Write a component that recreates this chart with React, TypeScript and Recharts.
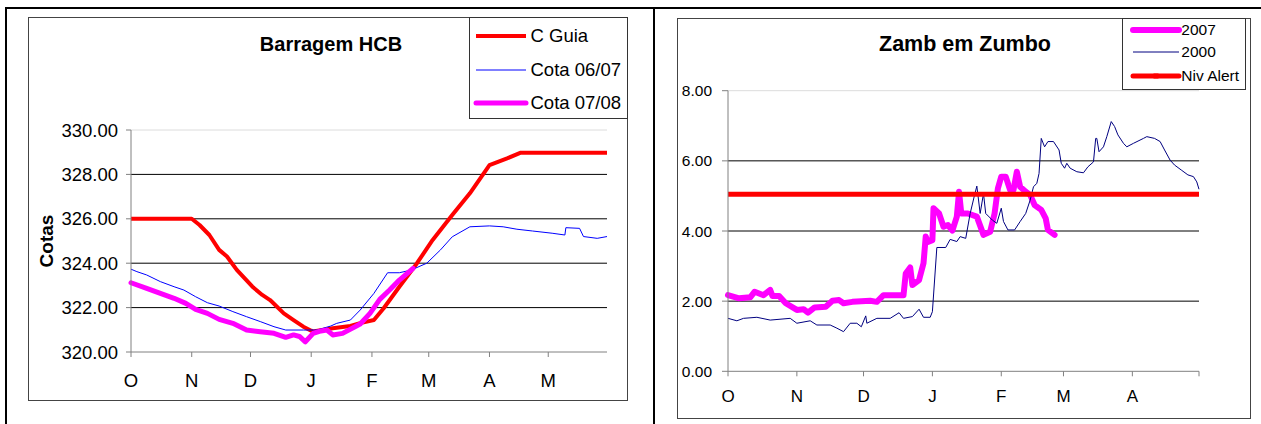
import React from "react";
import { CartesianGrid, Legend, Line, LineChart, XAxis, YAxis } from "recharts";

const FONT = '"Liberation Sans", Arial, Helvetica, sans-serif';

// ---- Barragem HCB (day index from 1 Oct, cota in m) ----
const hcbTicks = [0, 31, 61, 92, 123, 152, 183, 213];
const hcbMonths = ["O", "N", "D", "J", "F", "M", "A", "M"];
const hcbYTicks = [320, 322, 324, 326, 328, 330];

const cGuia: [number, number][] = [
  [0, 326], [31, 326], [35, 325.72], [40, 325.27], [45, 324.6], [49, 324.3], [54, 323.7],
  [62, 322.94], [67, 322.57], [71, 322.34], [78, 321.74], [83, 321.44], [88, 321.14],
  [92, 320.96], [93, 320.92], [103, 321.07], [112, 321.17], [117, 321.3], [124, 321.44],
  [129, 321.97], [137, 322.94], [146, 324.0], [154, 325.05], [164, 326.17], [173, 327.15],
  [183, 328.42], [192, 328.72], [199, 328.98], [243, 328.98],
];

const cota0607: [number, number][] = [
  [0, 323.73], [3, 323.62], [8, 323.47], [15, 323.17], [22, 322.94], [27, 322.79],
  [33, 322.49], [39, 322.22], [45, 322.07], [52, 321.82], [59, 321.59], [66, 321.37],
  [73, 321.14], [79, 320.99], [88, 320.99], [95, 320.99], [102, 321.17], [105, 321.29],
  [112, 321.44], [117, 321.89], [124, 322.64], [131, 323.57], [137, 323.57], [143, 323.69],
  [151, 324.0], [158, 324.6], [164, 325.19], [173, 325.64], [183, 325.68], [190, 325.64],
  [197, 325.53], [205, 325.45], [215, 325.35], [221.5, 325.27], [222, 325.6], [229, 325.57],
  [231, 325.2], [238, 325.12], [243, 325.2],
];

const cota0708: [number, number][] = [
  [0, 323.12], [8, 322.87], [15, 322.64], [22, 322.42], [28, 322.19], [33, 321.92],
  [39, 321.74], [45, 321.47], [52, 321.29], [59, 320.99], [66, 320.91], [73, 320.84],
  [79, 320.66], [83, 320.77], [86, 320.7], [89, 320.46], [93, 320.84], [97, 320.95],
  [100, 320.99], [103, 320.77], [108, 320.84], [117, 321.26], [122, 321.74], [127, 322.37],
  [132, 322.79], [137, 323.24], [144, 323.77],
];

// ---- Zamb em Zumbo (day index from 1 Oct, nivel in m) ----
const zumboTicks = [0, 31, 61, 92, 123, 151, 182, 212];
const zumboMonths = ["O", "N", "D", "J", "F", "M", "A", ""];
const zumboYTicks = [0, 2, 4, 6, 8];

const y2007: [number, number][] = [
  [0, 2.17], [5, 2.08], [10, 2.11], [12, 2.27], [16, 2.17], [19, 2.32], [20, 2.15], [23, 2.15],
  [26, 1.94], [31, 1.75], [34, 1.77], [36, 1.67], [39, 1.82], [44, 1.84], [47, 2.01], [50, 2.03],
  [52, 1.94], [56, 1.98], [64, 2.01], [67, 1.98], [70, 2.17], [79, 2.17], [80, 2.79], [82, 2.96],
  [83, 2.46], [86, 2.6], [88, 3.08], [89, 3.84], [90, 3.69], [92, 3.74], [92.5, 4.65], [95, 4.5],
  [97, 4.12], [99, 4.17], [101, 4.01], [103, 4.41], [104, 5.12], [105, 4.5], [108, 4.5],
  [112, 4.41], [115, 3.89], [118, 3.98], [120, 4.5], [121.5, 5.22], [123, 5.55], [125, 5.55],
  [127, 5.17], [128.5, 5.17], [130, 5.69], [131.5, 5.26], [134, 5.12], [136, 5.03], [138, 4.74],
  [141, 4.6], [143, 4.36], [144, 4.03], [147, 3.89],
];

const y2000: [number, number][] = [
  [0, 1.51], [4, 1.44], [7, 1.51], [13, 1.54], [19, 1.46], [28, 1.51], [31, 1.37], [37, 1.44],
  [40, 1.32], [46, 1.32], [49, 1.23], [52, 1.13], [55, 1.37], [58, 1.37], [60, 1.27], [62, 1.58],
  [62.5, 1.37], [67, 1.51], [73, 1.51], [77, 1.67], [79, 1.51], [83, 1.56], [86, 1.77], [88, 1.54],
  [91, 1.54], [92, 1.7], [94, 3.53], [98, 3.53], [100, 3.76], [103, 3.7], [104.5, 3.84], [107, 3.79],
  [109, 4.5], [111, 5.03], [112, 5.28], [113.5, 4.5], [115, 5.07], [116, 4.5], [119, 4.31],
  [121, 4.22], [123, 4.65], [124, 4.27], [126, 4.03], [129, 4.03], [131.5, 4.27], [134, 4.5],
  [136, 4.88], [137.5, 5.26], [139, 5.36], [140, 5.64], [141, 6.64], [142.5, 6.4], [144, 6.55],
  [146.5, 6.55], [149, 6.31], [150, 5.93], [151.5, 5.79], [152.5, 5.93], [154, 5.79], [157, 5.69],
  [160, 5.66], [162, 5.83], [164.5, 5.97], [165.5, 6.64], [166, 6.64], [167, 6.26], [169, 6.4],
  [170.5, 6.69], [172.5, 7.12], [174, 6.98], [175.5, 6.74], [178, 6.5], [179.5, 6.4], [182.5, 6.5],
  [187, 6.64], [188.5, 6.69], [192, 6.64], [194.5, 6.55], [196.5, 6.31], [199, 6.02], [201, 5.88],
  [204, 5.74], [207, 5.6], [209.5, 5.55], [211, 5.4], [212, 5.19],
];

const nivAlert: [number, number][] = [[0, 5.05], [212, 5.05]];

const toRows = (pts: [number, number][]) => pts.map(([d, v]) => ({ d, v }));

type LegendCfg = {
  order: string[];
  rows: number[];
  sample: [number, number];
  textLeft: number;
  fontSize: number;
  marker?: string;
};

const legendContent = (cfg: LegendCfg) => (props: any) => {
  const items = [...(props.payload ?? [])].sort(
    (a: any, b: any) => cfg.order.indexOf(a.value) - cfg.order.indexOf(b.value)
  );
  const w = cfg.sample[1] - cfg.sample[0];
  return (
    <div
      style={{
        position: "relative",
        width: "100%",
        height: "100%",
        boxSizing: "border-box",
        border: "1px solid #333",
        background: "#fff",
        fontFamily: FONT,
        color: "#000",
      }}
    >
      {items.map((it: any, i: number) => {
        const sw = it.payload?.strokeWidth ?? 2;
        return (
          <div key={it.value} style={{ position: "absolute", top: cfg.rows[i], left: 0, right: 0, height: 0 }}>
            <svg
              width={w}
              height={12}
              style={{ position: "absolute", left: cfg.sample[0], top: -6, overflow: "visible" }}
            >
              <line x1={0} x2={w} y1={6} y2={6} stroke={it.color} strokeWidth={sw} strokeLinecap={sw > 4 ? "round" : "butt"} />
              {cfg.marker === it.value && <rect x={w / 2 - 2.5} y={3.5} width={5} height={5} fill={it.color} />}
            </svg>
            <span
              style={{
                position: "absolute",
                left: cfg.textLeft,
                top: 0,
                transform: "translateY(-50%)",
                lineHeight: 1,
                fontSize: cfg.fontSize,
                whiteSpace: "nowrap",
              }}
            >
              {it.value}
            </span>
          </div>
        );
      })}
    </div>
  );
};

const frame: React.CSSProperties = {
  position: "absolute",
  boxSizing: "border-box",
  border: "1px solid #444",
  background: "#fff",
};

function HcbChart() {
  const tick = { fill: "#000", fontSize: 18.5, fontFamily: FONT };
  return (
    <>
      <div style={{ ...frame, left: 28, top: 17, width: 600, height: 384 }} />
      <div style={{ position: "absolute", left: 28, top: 17 }}>
        <LineChart width={600} height={384} margin={{ top: 113, right: 21, bottom: 9, left: 0 }}>
          <CartesianGrid vertical={false} horizontalValues={[330]} stroke="#dcdcdc" />
          <CartesianGrid vertical={false} horizontalValues={[322, 324, 326, 328]} stroke="#000" />
          <XAxis
            type="number"
            dataKey="d"
            domain={[0, 243]}
            ticks={hcbTicks}
            interval={0}
            tickFormatter={(v: number) => hcbMonths[hcbTicks.indexOf(v)] ?? ""}
            height={40}
            tickSize={5}
            tickMargin={17}
            stroke="#808080"
            tick={tick}
          />
          <YAxis
            type="number"
            domain={[320, 330]}
            ticks={hcbYTicks}
            interval={0}
            tickFormatter={(v: number) => v.toFixed(2)}
            width={103}
            tickSize={5}
            tickMargin={8}
            stroke="#808080"
            tick={tick}
          />
          <Legend
            layout="vertical"
            align="center"
            verticalAlign="middle"
            wrapperStyle={{ left: 441, top: 0, width: 158.5, height: 102 }}
            content={legendContent({
              order: ["C Guia", "Cota 06/07", "Cota 07/08"],
              rows: [17.5, 52, 84.5],
              sample: [6, 56],
              textLeft: 60.5,
              fontSize: 18.5,
            })}
          />
          <Line data={toRows(cGuia)} dataKey="v" name="C Guia" type="linear" stroke="#ff0000" strokeWidth={4} dot={false} strokeLinejoin="round" isAnimationActive={false} />
          <Line data={toRows(cota0607)} dataKey="v" name="Cota 06/07" type="linear" stroke="#0000ff" strokeWidth={1} dot={false} isAnimationActive={false} />
          <Line data={toRows(cota0708)} dataKey="v" name="Cota 07/08" type="linear" stroke="#ff00ff" strokeWidth={5} dot={false} strokeLinejoin="round" strokeLinecap="round" isAnimationActive={false} />
        </LineChart>
      </div>
      <div
        style={{
          position: "absolute",
          left: 331,
          top: 44,
          transform: "translate(-50%, -50%)",
          fontWeight: "bold",
          fontSize: 20,
          lineHeight: 1,
          whiteSpace: "nowrap",
        }}
      >
        Barragem HCB
      </div>
      <div
        style={{
          position: "absolute",
          left: 46,
          top: 241,
          transform: "translate(-50%, -50%) rotate(-90deg)",
          fontWeight: "bold",
          fontSize: 19,
          lineHeight: 1,
          whiteSpace: "nowrap",
        }}
      >
        Cotas
      </div>
    </>
  );
}

function ZumboChart() {
  const yTick = { fill: "#000", fontSize: 15.5, fontFamily: FONT };
  const xTick = { fill: "#000", fontSize: 17, fontFamily: FONT };
  return (
    <>
      <div style={{ ...frame, left: 677, top: 18, width: 574, height: 401 }} />
      <div style={{ position: "absolute", left: 677, top: 18 }}>
        <LineChart width={574} height={401} margin={{ top: 72.7, right: 52, bottom: 7.7, left: 0 }}>
          <CartesianGrid vertical={false} horizontalValues={[8]} stroke="#dcdcdc" />
          <CartesianGrid vertical={false} horizontalValues={[2, 4, 6]} stroke="#000" />
          <XAxis
            type="number"
            dataKey="d"
            domain={[0, 212]}
            ticks={zumboTicks}
            interval={0}
            tickFormatter={(v: number) => zumboMonths[zumboTicks.indexOf(v)] ?? ""}
            height={40}
            tickSize={5}
            tickMargin={14}
            stroke="#808080"
            tick={xTick}
          />
          <YAxis
            type="number"
            domain={[0, 8]}
            ticks={zumboYTicks}
            interval={0}
            tickFormatter={(v: number) => v.toFixed(2)}
            width={51}
            tickSize={6}
            tickMargin={10}
            stroke="#808080"
            tick={yTick}
          />
          <Legend
            layout="vertical"
            align="center"
            verticalAlign="middle"
            wrapperStyle={{ left: 445.3, top: 0, width: 123.4, height: 72 }}
            content={legendContent({
              order: ["2007", "2000", "Niv Alert"],
              rows: [10.5, 33, 57],
              sample: [10, 56],
              textLeft: 58,
              fontSize: 15.5,
              marker: "Niv Alert",
            })}
          />
          <Line data={toRows(y2007)} dataKey="v" name="2007" type="linear" stroke="#ff00ff" strokeWidth={6} dot={false} strokeLinejoin="round" strokeLinecap="round" isAnimationActive={false} />
          <Line data={toRows(y2000)} dataKey="v" name="2000" type="linear" stroke="#000080" strokeWidth={1} dot={false} isAnimationActive={false} />
          <Line data={toRows(nivAlert)} dataKey="v" name="Niv Alert" type="linear" stroke="#ff0000" strokeWidth={5} dot={false} isAnimationActive={false} />
        </LineChart>
      </div>
      <div
        style={{
          position: "absolute",
          left: 965,
          top: 44.5,
          transform: "translate(-50%, -50%)",
          fontWeight: "bold",
          fontSize: 21.5,
          lineHeight: 1,
          whiteSpace: "nowrap",
        }}
      >
        Zamb em Zumbo
      </div>
    </>
  );
}

export default function App() {
  return (
    <div
      style={{
        position: "absolute",
        left: 0,
        top: 0,
        width: 1261,
        height: 424,
        overflow: "hidden",
        background: "#fff",
        fontFamily: FONT,
        color: "#000",
      }}
    >
      {/* table rules */}
      <div style={{ position: "absolute", left: 5, top: 6.5, width: 1256, height: 2, background: "#000" }} />
      <div style={{ position: "absolute", left: 5, top: 6.5, width: 2, height: 418, background: "#000" }} />
      <div style={{ position: "absolute", left: 653, top: 6.5, width: 2, height: 418, background: "#000" }} />
      <HcbChart />
      <ZumboChart />
    </div>
  );
}
